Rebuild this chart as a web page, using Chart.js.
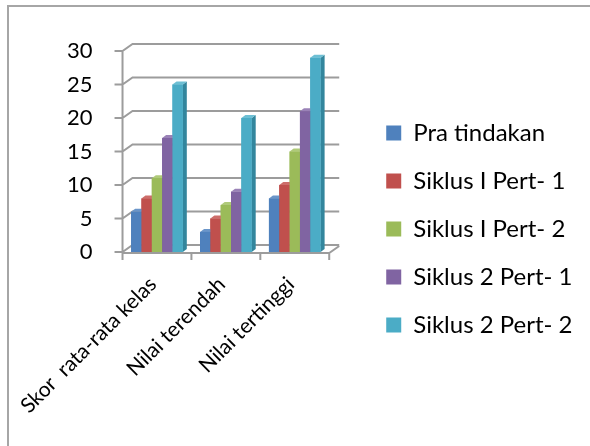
<!DOCTYPE html>
<html>
<head>
<meta charset="utf-8">
<script src="https://cdn.jsdelivr.net/npm/chart.js@4.4.1/dist/chart.umd.min.js"></script>
<style>
  body { margin: 0; background: #fff; }
  #wrap { position: relative; width: 590px; height: 446px; }
  #frame { position: absolute; left: 7px; top: 5px; right: -10px; bottom: -10px;
           border-top: 2px solid #a6a6a6; border-left: 2px solid #a6a6a6; }
</style>
</head>
<body>
<div id="wrap">
  <div id="frame"></div>
  <canvas id="myChart"></canvas>
</div>
<script>
const categories = ['Skor  rata-rata kelas', 'Nilai terendah', 'Nilai tertinggi'];
const seriesNames = ['Pra tindakan', 'Siklus I Pert- 1', 'Siklus I Pert- 2', 'Siklus 2 Pert- 1', 'Siklus 2 Pert- 2'];
const praTindakan = [6, 3, 8];
const siklus1Pert1 = [8, 5, 10];
const siklus1Pert2 = [11, 7, 15];
const siklus2Pert1 = [17, 9, 21];
const siklus2Pert2 = [25, 20, 29];
const yTicks = [0, 5, 10, 15, 20, 25, 30];

const colors = ['#4F81BD', '#C0504D', '#9BBB59', '#8064A2', '#4BACC6'];
const sideColors = ['#3A6193', '#923B39', '#758E41', '#604B7C', '#33869D'];
const topColors = ['#6A95C9', '#CD6D6A', '#AFCA79', '#9A82B7', '#6DBFD4'];

const DX = 10, DY = 7;   // back wall offset
const BDX = 4, BDY = 3;  // bar depth

const walls = {
  id: 'walls',
  afterLayout(chart) {
    // let the rotated category labels run below the x box without clipping
    chart.scales.x.bottom = chart.height;
  },
  beforeDatasetsDraw(chart) {
    const {ctx, chartArea: a, scales: {y}} = chart;
    ctx.save();
    ctx.strokeStyle = '#9c9c9c';
    ctx.lineWidth = 2;
    ctx.beginPath();
    ctx.moveTo(a.left, a.top);
    ctx.lineTo(a.left, a.bottom);
    yTicks.forEach(v => {
      const py = y.getPixelForValue(v);
      ctx.moveTo(a.left - 8, py);
      ctx.lineTo(a.left, py);
      ctx.lineTo(a.left + DX, py - DY);
      ctx.lineTo(a.right + DX, py - DY);
    });
    // floor
    ctx.moveTo(a.left, a.bottom + 1);
    ctx.lineTo(a.right, a.bottom + 1);
    ctx.lineTo(a.right + DX, a.bottom - DY + 1);
    const n = categories.length;
    for (let i = 0; i <= n; i++) {
      const px = a.left + i * a.width / n;
      ctx.moveTo(px, a.bottom + 1);
      ctx.lineTo(px, a.bottom + 8);
    }
    ctx.stroke();
    ctx.restore();
  },
  afterDatasetsDraw(chart) {
    const ctx = chart.ctx;
    ctx.save();
    chart.data.datasets.forEach((ds, i) => {
      chart.getDatasetMeta(i).data.forEach(bar => {
        const {x, y, width, base} = bar.getProps(['x', 'y', 'width', 'base'], true);
        const l = x - width / 2, r = x + width / 2;
        ctx.fillStyle = sideColors[i];
        ctx.beginPath();
        ctx.moveTo(r, y); ctx.lineTo(r + BDX, y - BDY);
        ctx.lineTo(r + BDX, base - BDY); ctx.lineTo(r, base);
        ctx.closePath(); ctx.fill();
        ctx.fillStyle = topColors[i];
        ctx.beginPath();
        ctx.moveTo(l, y); ctx.lineTo(l + BDX, y - BDY);
        ctx.lineTo(r + BDX, y - BDY); ctx.lineTo(r, y);
        ctx.closePath(); ctx.fill();
        ctx.fillStyle = colors[i];
        ctx.fillRect(l, y, width, base - y);
      });
    });
    ctx.restore();
  }
};

const values = [praTindakan, siklus1Pert1, siklus1Pert2, siklus2Pert1, siklus2Pert2];

new Chart(document.getElementById('myChart'), {
  type: 'bar',
  data: {
    labels: categories,
    datasets: seriesNames.map((name, i) => ({
      label: name,
      data: values[i],
      backgroundColor: colors[i],
      borderWidth: 0,
      barPercentage: 1,
      categoryPercentage: 0.75
    }))
  },
  options: {
    responsive: true,
    maintainAspectRatio: false,
    animation: false,
    layout: {
      padding: {left: 37, top: 51, right: 7.5, bottom: 39}
    },
    plugins: {
      tooltip: {enabled: false},
      legend: {
        position: 'right',
        maxWidth: 300,
        labels: {
          boxWidth: 15,
          boxHeight: 15,
          padding: 24,
          color: '#000',
          font: {family: 'Lato', size: 24}
        }
      }
    },
    scales: {
      x: {
        grid: {display: false, drawTicks: false},
        border: {display: false},
        ticks: {
          color: '#000',
          font: {family: 'Lato', size: 21},
          minRotation: 45,
          maxRotation: 45,
          padding: 20,
          labelOffset: -4
        },
        afterFit(s) {
          s.height = 155;
          s.paddingLeft = 0;
          s.paddingRight = 0;
        }
      },
      y: {
        min: 0,
        max: 30,
        grid: {display: false, drawTicks: false},
        border: {display: false},
        ticks: {
          stepSize: 5,
          color: '#000',
          font: {family: 'Lato', size: 22},
          padding: 30
        }
      },
      y2: {
        position: 'right',
        grid: {display: false, drawTicks: false},
        border: {display: false},
        ticks: {display: false},
        afterFit(s) { s.width = 33; }
      }
    }
  },
  plugins: [walls]
});
</script>
</body>
</html>
